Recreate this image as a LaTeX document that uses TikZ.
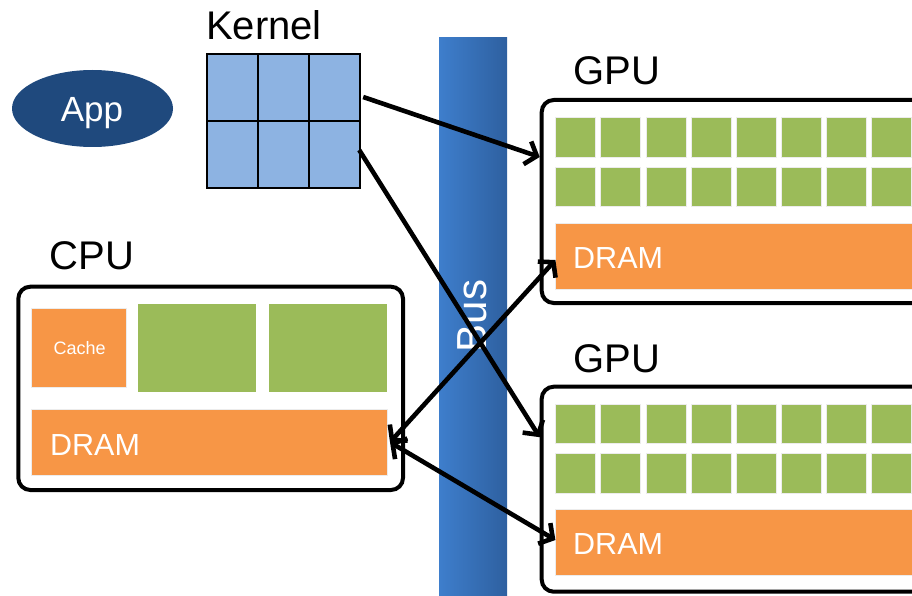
\documentclass[tikz,border=0pt]{standalone}
\usepackage{fontspec}
\setmainfont{Liberation Sans}
\usetikzlibrary{arrows.meta,calc,shapes.geometric}
\definecolor{cgreen}{HTML}{9BBB59}
\definecolor{corange}{HTML}{F79646}
\definecolor{ckernel}{HTML}{8DB3E2}
\definecolor{capp}{HTML}{1F497D}
\definecolor{cbusL}{RGB}{62,126,204}
\definecolor{cbusR}{RGB}{46,96,160}
\begin{document}
\begin{tikzpicture}[x=1pt,y=-1pt,
  frame/.style={draw=black,line width=4pt,rounded corners=12pt,fill=white,inner sep=0pt},
  core/.style={fill=cgreen,draw=white!85!gray,line width=0.8pt,inner sep=0pt,minimum width=40pt,minimum height=39.5pt},
  mem/.style={fill=corange,draw=white!85!gray,line width=0.6pt,inner sep=0pt},
  cell/.style={fill=ckernel,draw=black,line width=1.5pt,inner sep=0pt,minimum width=51pt,minimum height=67pt},
  heading/.style={font=\fontsize{40}{44}\selectfont,inner sep=0pt,anchor=base west},
  memtext/.style={font=\fontsize{30.5}{34}\selectfont,text=white,inner sep=0pt,anchor=base west},
  arr/.style={line width=4.6pt,-{Straight Barb[length=10pt,width=24pt]}},
  darr/.style={line width=4.6pt,{Straight Barb[length=10pt,width=24pt]}-{Straight Barb[length=10pt,width=24pt]}}]
\clip (0,0) rectangle (912,596);
\fill[white] (0,0) rectangle (912,596);

% Bus
\node[rectangle,inner sep=0pt,minimum width=68pt,minimum height=580pt,left color=cbusL,right color=cbusR] (bus) at (473,328) {};
\node[rotate=90,inner sep=0pt,text=white,font=\fontsize{42}{46}\selectfont] (bustext) at (472,316) {Bus};

% App
\node[ellipse,fill=capp,minimum width=161pt,minimum height=77pt,inner sep=0pt] (app) at (92.5,108.5) {};
\node[anchor=base,inner sep=0pt,text=white,font=\fontsize{35}{40}\selectfont] (apptext) at (92,122) {App};

% Kernel
\node[heading] (kerneltext) at (206,40) {Kernel};
\node[inner sep=0pt,minimum width=153pt,minimum height=134pt] (kernel) at (283.5,121) {};
\foreach \c/\x in {1/232.5,2/283.5,3/334.5}{
  \foreach \r/\y in {1/87.5,2/154.5}{
    \node[cell] (k\r\c) at (\x,\y) {};
  }
}

% CPU
\node[heading] (cputext) at (49.5,269.5) {CPU};
\node[frame,minimum width=384.7pt,minimum height=203.3pt] (cpu) at (210.65,388.35) {};
\node[mem,minimum width=95pt,minimum height=79pt] (cache) at (79.2,347.8) {};
\node[anchor=base,inner sep=0pt,text=white,font=\fontsize{18}{20}\selectfont] (cachetext) at (79.7,354) {Cache};
\node[fill=cgreen,inner sep=0pt,minimum width=118pt,minimum height=87.7pt] (ccore1) at (196.7,347.8) {};
\node[fill=cgreen,inner sep=0pt,minimum width=117.7pt,minimum height=87.7pt] (ccore2) at (327.85,347.8) {};
\node[mem,minimum width=356pt,minimum height=65.7pt] (cdram) at (209.7,442.2) {};
\node[memtext] (cdramtext) at (50,455) {DRAM};

% GPU A
\node[heading] (gputextA) at (573,85) {GPU};
\node[frame,minimum width=408.3pt,minimum height=203pt] (gpuA) at (745.85,201.5) {};
\foreach \i in {0,...,8}{
  \node[core] (gAa\i) at ({575.7+45.1*\i},137.5) {};
  \node[core] (gAb\i) at ({575.7+45.1*\i},187) {};
}
\node[mem,minimum width=369.3pt,minimum height=66pt] (gdramA) at (740.35,256.3) {};
\node[memtext] (gdramtextA) at (573,268) {DRAM};

% GPU B
\node[heading] (gputextB) at (573,372) {GPU};
\node[frame,minimum width=408.3pt,minimum height=205pt] (gpuB) at (745.85,489.2) {};
\foreach \i in {0,...,8}{
  \node[core] (gBa\i) at ({575.7+45.1*\i},424) {};
  \node[core] (gBb\i) at ({575.7+45.1*\i},473.5) {};
}
\node[mem,minimum width=369.3pt,minimum height=66pt] (gdramB) at (740.35,542.3) {};
\node[memtext] (gdramtextB) at (573,554) {DRAM};

% Connectors
\draw[arr] ([shift={(3,-24)}]kernel.east) -- ([yshift=44.5pt]gpuA.west);
\draw[arr] ([shift={(-1,29)}]kernel.east) -- ([yshift=52pt]gpuB.west);
\draw[darr] ([xshift=2pt]cdram.east) -- ([yshift=-3.7pt]gdramA.west);
\draw[darr] ([xshift=2pt]cdram.east) -- ([yshift=2.3pt]gdramB.west);
\end{tikzpicture}
\end{document}
